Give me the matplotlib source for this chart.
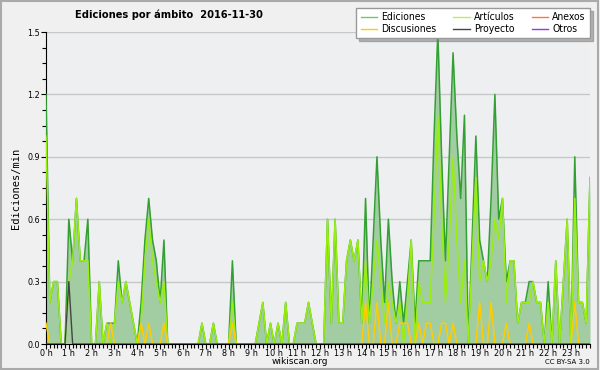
import numpy as np
import matplotlib.pyplot as plt
from matplotlib.lines import Line2D
from matplotlib.patches import Rectangle
from matplotlib.ticker import MultipleLocator

# Edits per minute, 10-minute bins (144 per day)
ediciones = [1.2, 0.2, 0.3, 0.3, 0, 0, 0.6, 0.4, 0.7, 0.4, 0.4, 0.6,
             0, 0, 0.3, 0, 0.1, 0.1, 0.1, 0.4, 0.2, 0.3, 0.2, 0.1,
             0, 0.2, 0.5, 0.7, 0.5, 0.4, 0.2, 0.5, 0, 0, 0, 0,
             0, 0, 0, 0, 0, 0.1, 0, 0, 0.1, 0, 0, 0,
             0, 0.4, 0, 0, 0, 0, 0, 0, 0.1, 0.2, 0, 0.1,
             0, 0.1, 0, 0.2, 0, 0, 0.1, 0.1, 0.1, 0.2, 0.1, 0,
             0, 0, 0.6, 0.1, 0.6, 0.1, 0.1, 0.4, 0.5, 0.4, 0.5, 0.1,
             0.7, 0.1, 0.5, 0.9, 0.5, 0.2, 0.6, 0.3, 0.1, 0.3, 0.1, 0.3,
             0.5, 0.1, 0.4, 0.4, 0.4, 0.4, 1.0, 1.5, 0.9, 0.4, 0.9, 1.4,
             1.0, 0.7, 1.1, 0, 0.5, 1.0, 0.5, 0.4, 0.3, 0.7, 1.2, 0.6,
             0.7, 0.3, 0.4, 0.4, 0.1, 0.2, 0.2, 0.3, 0.3, 0.2, 0.2, 0,
             0.3, 0, 0.4, 0, 0.3, 0.6, 0, 0.9, 0.2, 0.2, 0.1, 0.8]

articulos = [1.0, 0.2, 0.3, 0.3, 0, 0, 0.3, 0.4, 0.7, 0.4, 0.4, 0.4,
             0, 0, 0.3, 0, 0.1, 0, 0.1, 0.3, 0.2, 0.3, 0.2, 0.1,
             0, 0.1, 0.4, 0.6, 0.4, 0.3, 0.2, 0.3, 0, 0, 0, 0,
             0, 0, 0, 0, 0, 0.1, 0, 0, 0.1, 0, 0, 0,
             0, 0.2, 0, 0, 0, 0, 0, 0, 0.1, 0.2, 0, 0.1,
             0, 0.1, 0, 0.2, 0, 0, 0.1, 0.1, 0.1, 0.2, 0.1, 0,
             0, 0, 0.6, 0.1, 0.6, 0.1, 0.1, 0.4, 0.5, 0.4, 0.5, 0.1,
             0.4, 0.1, 0.3, 0.5, 0.3, 0.1, 0.3, 0.2, 0.1, 0.2, 0, 0.2,
             0.5, 0, 0.3, 0.2, 0.2, 0.2, 0.6, 1.1, 0.6, 0.2, 0.5, 0.9,
             0.5, 0.2, 0.4, 0, 0.4, 0.8, 0.3, 0.4, 0.3, 0.4, 0.6, 0.5,
             0.7, 0.2, 0.4, 0.4, 0.1, 0.2, 0.2, 0.2, 0.3, 0.2, 0.2, 0,
             0.2, 0, 0.4, 0, 0.3, 0.6, 0, 0.7, 0.2, 0.2, 0.1, 0.8]

discusiones = [0.1, 0, 0, 0, 0, 0, 0, 0, 0, 0, 0, 0,
               0, 0, 0, 0, 0, 0.1, 0, 0, 0, 0, 0, 0,
               0, 0.1, 0, 0.1, 0, 0, 0, 0.1, 0, 0, 0, 0,
               0, 0, 0, 0, 0, 0, 0, 0, 0, 0, 0, 0,
               0, 0.1, 0, 0, 0, 0, 0, 0, 0, 0, 0, 0,
               0, 0, 0, 0, 0, 0, 0, 0, 0, 0, 0, 0,
               0, 0, 0, 0, 0, 0, 0, 0, 0, 0, 0, 0,
               0.2, 0, 0, 0.2, 0, 0, 0.2, 0, 0, 0.1, 0.1, 0.1,
               0, 0, 0.1, 0, 0.1, 0.1, 0, 0, 0.1, 0.1, 0, 0.1,
               0, 0, 0, 0, 0, 0, 0.2, 0, 0, 0.2, 0, 0,
               0, 0.1, 0, 0, 0, 0, 0, 0.1, 0, 0, 0, 0,
               0, 0, 0, 0, 0, 0, 0, 0.2, 0, 0, 0, 0]

proyecto = [0] * 6 + [0.3] + [0] * 137
anexos = [0] * 144
otros = [0] * 144

hour_labels = [f"{h} h" for h in range(24)]
y_ticks = [0.0, 0.3, 0.6, 0.9, 1.2, 1.5]

x = np.arange(len(ediciones))

fig = plt.figure(figsize=(6, 3.7), dpi=100, facecolor='#f0f0f0')
fig.patches.append(Rectangle((0.002, 0.003), 0.995, 0.994, transform=fig.transFigure,
                             fill=False, edgecolor='#aaaaaa', linewidth=1.5))
ax = fig.add_axes([46 / 600, 26 / 370, 544 / 600, 312 / 370])
ax.set_facecolor('#eeeff1')

ax.fill_between(x, ediciones, color='#a2cca2', linewidth=0, zorder=1)
ax.plot(x, otros, color='#9933ee', linewidth=1, zorder=2)
ax.plot(x, anexos, color='#ff7733', linewidth=1, zorder=2)
ax.plot(x, ediciones, color='#33a033', linewidth=1.1, zorder=3)
ax.plot(x, articulos, color='#99ee11', linewidth=1.1, zorder=4)
ax.plot(x, discusiones, color='#ffcc00', linewidth=1.1, zorder=5)
ax.plot(x, proyecto, color='#444444', linewidth=1, zorder=6)

ax.set_xlim(0, len(ediciones) - 1)
ax.set_ylim(0, 1.5)
ax.set_yticks(y_ticks)
ax.set_yticklabels([f"{v:.1f}" for v in y_ticks])
ax.yaxis.set_minor_locator(MultipleLocator(0.075))
ax.set_xticks(np.arange(0, 144, 6))
ax.set_xticklabels(hour_labels)
ax.xaxis.set_minor_locator(MultipleLocator(1))
ax.tick_params(axis='both', which='major', labelsize=6.5, length=3.5, width=0.8, pad=1)
ax.tick_params(axis='x', which='major', pad=0)
ax.tick_params(axis='both', which='minor', length=3, width=0.8)
for lab in ax.get_xticklabels() + ax.get_yticklabels():
    lab.set_fontstretch('condensed')
ax.grid(axis='y', color='#c8c8c8', linewidth=1)
ax.set_axisbelow(True)
for side in ['top', 'right']:
    ax.spines[side].set_visible(False)

ax.set_ylabel('Ediciones/min', fontsize=7.5, family='DejaVu Sans Mono', labelpad=4)
fig.text(75 / 600, 1 - 15 / 370, 'Ediciones por ámbito  2016-11-30',
         fontsize=7.9, fontweight='bold', fontstretch='condensed', va='center', ha='left')
fig.text(300 / 600, 1 - 362 / 370, 'wikiscan.org', fontsize=6.5, ha='center', va='center')
fig.text(590 / 600, 1 - 362 / 370, 'CC BY-SA 3.0', fontsize=5, ha='right', va='center')

handles = [
    Line2D([], [], color='#66cc66', lw=1), Line2D([], [], color='#ffcc00', lw=1),
    Line2D([], [], color='#bbee55', lw=1), Line2D([], [], color='#444444', lw=1),
    Line2D([], [], color='#ff7733', lw=1), Line2D([], [], color='#9933ee', lw=1),
]
labels = ['Ediciones', 'Discusiones', 'Artículos', 'Proyecto', 'Anexos', 'Otros']
leg = fig.legend(handles, labels, ncol=3, loc='upper right', bbox_to_anchor=(590 / 600, 1 - 8 / 370),
                 prop={'size': 7.5, 'stretch': 'condensed'}, frameon=True, fancybox=False,
                 shadow={'color': '#777777'},
                 edgecolor='#999999', facecolor='white', framealpha=1,
                 handlelength=1.6, handletextpad=0.4, columnspacing=1.6,
                 borderpad=0.4, labelspacing=0.2, borderaxespad=0)
leg.get_frame().set_linewidth(1)

fig.savefig('out.png', dpi=100, facecolor=fig.get_facecolor())
